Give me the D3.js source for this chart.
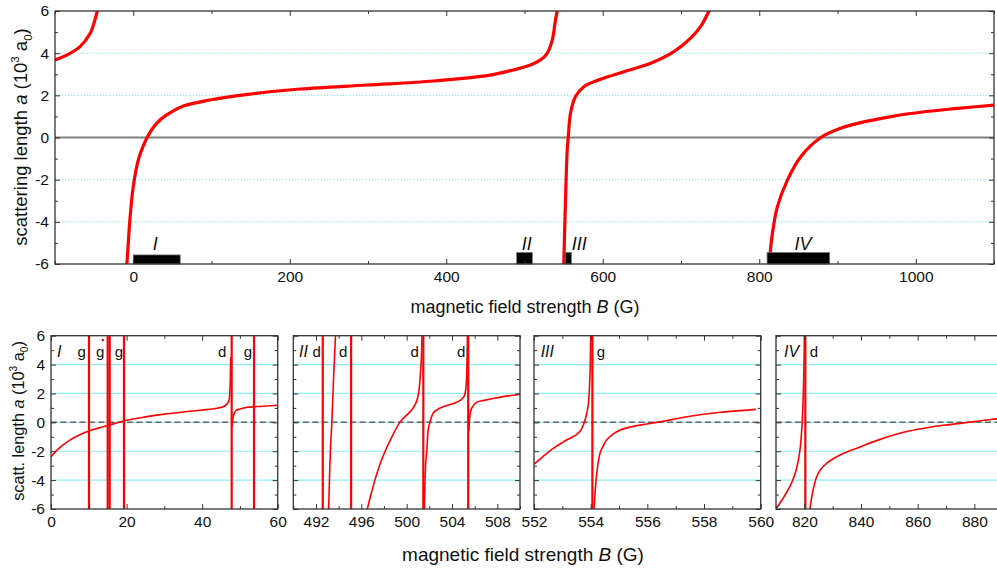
<!DOCTYPE html>
<html><head><meta charset="utf-8">
<script src="https://cdn.jsdelivr.net/npm/d3@7/dist/d3.min.js"></script>
<style>
body{margin:0;background:#fff}
svg{display:block}
text{font-family:"Liberation Sans",Arial,Helvetica,sans-serif;fill:#111}
</style>
</head><body>
<svg id="c" width="997" height="570"></svg>
<script>
// ---------------- DATA ----------------
// Overview (top) panel: branches of a(B) in units of 10^3 a0, B in G
const topBranch1 = [[-100,3.68],[-85,3.91],[-68,4.31],[-55,4.94],[-49,5.57],[-46,6]];
const topBranch2 = [[-8.1,-6],[-6,-4.8],[-4.3,-3.9],[0,-2.33],[6.4,-1.07],[12.8,-0.4],[18.4,0.05],[29.9,0.67],[42.7,1.07],[64,1.49],[98,1.78],[149,2.06],[213,2.30],[299,2.49],[384,2.68],[456,2.96],[482,3.17],[507.6,3.44],[520.4,3.68],[529,3.99],[535.4,4.62],[539.6,5.57],[541.8,6]];
const topBranch3 = [[550.2,-6],[552.4,-2.96],[554.6,-0.59],[555.9,0],[558.8,1.15],[565.2,1.94],[575.8,2.41],[597.2,2.76],[627,3.12],[661.2,3.52],[691,4.07],[712.3,4.71],[725,5.26],[735.8,6]];
const topBranch4 = [[812.5,-6],[816.8,-4.55],[823.2,-3.28],[836,-2.02],[853,-0.91],[878.7,0],[904,0.44],[925.7,0.67],[968.3,0.99],[1010.9,1.22],[1053.6,1.38],[1100,1.54]];
const regionNames = ["I","II","III","IV"];
const regionFrom  = [0, 490, 552, 810];
const regionTo    = [60, 510, 560, 890];
const regionTop   = [-5.57, -5.45, -5.45, -5.45];
const regionLabelB = [28, 503, 570, 856];

// Zoomed panels
const panelNames   = ["I","II","III","IV"];
const panelDomains = [[0,60],[490,510],[552,560],[810,890]];
const panelMajor   = [[0,20,40,60],[492,496,500,504,508],[552,554,556,558,560],[820,840,860,880]];
const panelMinor   = [[10,30,50],[490,494,498,502,506,510],[553,555,557,559],[810,830,850,870,890]];
const panelNameB   = [2.2, 490.9, 552.47, 815.5];

const panelIBranches = [
  [[0,-2.38],[2,-1.82],[5,-1.23],[7.5,-0.88],[10,-0.6],[12.5,-0.4],[15,-0.22],[17.5,-0.03],[20,0.15],[25,0.38],[30,0.57],[35,0.72],[40,0.85],[44,0.98],[46,1.13],[47,1.43],[47.35,2.2],[47.5,3.6],[47.55,4.5]],
  [[47.9,-0.3],[48.1,0.2],[48.4,0.55],[49,0.82],[50,0.92],[52,1.04],[54,1.08],[56,1.12],[60,1.18]]
];
const panelIIBranches = [
  [[493.12,-6],[493.27,-2],[493.4,0],[493.55,3],[493.72,6]],
  [[496.53,-6],[496.85,-5],[497.2,-4],[497.6,-3],[498.1,-2],[498.7,-1],[499.4,0],[500.0,0.5],[500.5,0.9],[500.85,1.4],[501.05,2.0],[501.2,3.2],[501.3,4.5],[501.35,6]],
  [[501.57,-6],[501.62,-4],[501.7,-2.6],[501.78,-2],[501.9,-0.5],[502.05,0],[502.35,0.65],[502.7,0.88],[503.1,1.04],[503.7,1.2],[504.27,1.34],[504.8,1.55],[505.1,1.85],[505.25,2.6],[505.32,4],[505.36,6]],
  [[505.5,-0.6],[505.56,0.3],[505.74,0.99],[506.2,1.4],[506.8,1.52],[507.5,1.63],[508.5,1.78],[510,1.95]]
];
const panelIIIBranches = [
  [[552,-2.89],[552.3,-2.4],[552.68,-1.8],[553,-1.4],[553.27,-1.1],[553.5,-0.85],[553.65,-0.55],[553.75,-0.15],[553.82,0.3],[553.88,0.8],[553.92,1.3],[553.96,2.5],[553.98,3.6],[554.0,6]],
  [[554.12,-6],[554.19,-4],[554.25,-3],[554.33,-2.14],[554.45,-1.6],[554.56,-1.23],[554.8,-0.8],[555.04,-0.53],[555.5,-0.28],[555.98,-0.12],[556.7,0.13],[557.39,0.39],[558.5,0.68],[559.83,0.9]]
];
const panelIVBranches = [
  [[810,-6],[813,-5.1],[815,-4.4],[816.5,-3.7],[817.6,-2.9],[818.4,-2.0],[818.9,-1.0],[819.25,0],[819.5,1.2],[819.7,2.5],[819.88,4],[820,6]],
  [[822,-6],[822.5,-5.3],[823.2,-4.6],[824.2,-3.85],[825.6,-3.3],[827.5,-2.9],[830.3,-2.5],[835,-2.05],[839.7,-1.7],[845,-1.3],[851.5,-0.88],[857,-0.6],[863.3,-0.37],[869,-0.2],[875,-0.07],[880,0.05],[885.9,0.2],[890,0.27]]
];
const panelBranches = [panelIBranches, panelIIBranches, panelIIIBranches, panelIVBranches];
// narrow resonances (drawn as vertical lines)
const panelNarrow = [[10.06,15.0,15.53,19.32,47.82,53.73],[492.6,495.1,501.47,505.43],[554.06],[820.35]];
// resonance labels (partial wave) and their B positions
const panelResLabels = [["g","g","g","d","g"],["d","d","d","d"],["g"],["d"]];
const panelResLabelB = [[8.1,13.0,18.0,45.3,52.1],[492.06,494.4,500.7,504.8],[554.36],[823.4]];
const panelIDots = [[13.7,5.7]];

const yMajor = [-6,-4,-2,0,2,4,6];
const yMinor = [-5,-3,-1,1,3,5];
const topXMajor = [0,200,400,600,800,1000];
const topXMinor = [-100,100,300,500,700,900,1100];
const gridVals = [-4,-2,2,4];

// ---------------- DRAW ----------------
const svg = d3.select("#c");
const FRAME = "#333";
const RED = "#ff0000";
const fmt = d => String(d);

function addTicks(g, x, y, xMaj, xMin, showX, showY, fs) {
  const [yb, yt] = y.range();
  const [xl, xr] = x.range();
  const style = s => { s.select(".domain").remove(); s.selectAll("line").attr("stroke", FRAME).attr("stroke-width",1); s.selectAll("text").attr("font-size", fs).attr("fill","#111"); };
  g.append("g").attr("transform",`translate(0,${yb})`).call(d3.axisBottom(x).tickValues(xMaj).tickSizeInner(-5).tickSizeOuter(0).tickPadding(7).tickFormat(showX?fmt:"")).call(style);
  g.append("g").attr("transform",`translate(0,${yb})`).call(d3.axisBottom(x).tickValues(xMin).tickSizeInner(-3).tickSizeOuter(0).tickFormat("")).call(style);
  g.append("g").attr("transform",`translate(0,${yt})`).call(d3.axisTop(x).tickValues(xMaj).tickSizeInner(-5).tickSizeOuter(0).tickFormat("")).call(style);
  g.append("g").attr("transform",`translate(0,${yt})`).call(d3.axisTop(x).tickValues(xMin).tickSizeInner(-3).tickSizeOuter(0).tickFormat("")).call(style);
  g.append("g").attr("transform",`translate(${xl},0)`).call(d3.axisLeft(y).tickValues(yMajor).tickSizeInner(-5).tickSizeOuter(0).tickPadding(6).tickFormat(showY?fmt:"")).call(style);
  g.append("g").attr("transform",`translate(${xl},0)`).call(d3.axisLeft(y).tickValues(yMinor).tickSizeInner(-3).tickSizeOuter(0).tickFormat("")).call(style);
  g.append("g").attr("transform",`translate(${xr},0)`).call(d3.axisRight(y).tickValues(yMajor).tickSizeInner(-5).tickSizeOuter(0).tickFormat("")).call(style);
  g.append("g").attr("transform",`translate(${xr},0)`).call(d3.axisRight(y).tickValues(yMinor).tickSizeInner(-3).tickSizeOuter(0).tickFormat("")).call(style);
  g.append("rect").attr("x",xl).attr("y",yt).attr("width",xr-xl).attr("height",yb-yt)
    .attr("fill","none").attr("stroke",FRAME).attr("stroke-width",1.3);
}

function richText(sel, parts, fs) {
  let shift = 0;
  parts.forEach(p => {
    const t = sel.append("tspan").text(p.t);
    let target = 0, size = fs;
    if (p.sup) { target = -0.42*fs; size = fs*0.62; }
    if (p.sub) { target = 0.25*fs; size = fs*0.62; }
    t.attr("font-size", size).attr("dy", target - shift);
    shift = target;
    if (p.i) t.attr("font-style","italic");
  });
}

const smooth = d3.curveCatmullRom.alpha(0.5);

// ---- top panel ----
const tx = d3.scaleLinear().domain([-100,1100]).range([55,994]);
const ty = d3.scaleLinear().domain([-6,6]).range([264,11]);
const gTop = svg.append("g");
svg.append("clipPath").attr("id","clipTop").append("rect")
  .attr("x",55).attr("y",11).attr("width",939).attr("height",253);

gTop.selectAll("line.grid").data(gridVals).join("line")
  .attr("x1",tx(-100)).attr("x2",tx(1100)).attr("y1",d=>ty(d)).attr("y2",d=>ty(d))
  .attr("stroke","#6fe3ee").attr("stroke-width",1).attr("stroke-dasharray","1.2,2");
gTop.append("line").attr("x1",tx(-100)).attr("x2",tx(1100)).attr("y1",ty(0)).attr("y2",ty(0))
  .attr("stroke","#808080").attr("stroke-width",2.2);

const topLine = d3.line().x(d=>tx(d[0])).y(d=>ty(d[1])).curve(smooth);
gTop.append("g").attr("clip-path","url(#clipTop)").selectAll("path")
  .data([topBranch1,topBranch2,topBranch3,topBranch4]).join("path")
  .attr("d",topLine).attr("fill","none").attr("stroke",RED).attr("stroke-width",3.2).attr("stroke-linecap","round");

gTop.selectAll("rect.region").data(regionNames).join("rect")
  .attr("x",(d,i)=>tx(regionFrom[i])).attr("width",(d,i)=>tx(regionTo[i])-tx(regionFrom[i]))
  .attr("y",(d,i)=>ty(regionTop[i])).attr("height",(d,i)=>ty(-6)-ty(regionTop[i]))
  .attr("fill","#000").attr("stroke","#777").attr("stroke-width",0.8);
gTop.selectAll("text.region").data(regionNames).join("text")
  .attr("x",(d,i)=>tx(regionLabelB[i])).attr("y",250).attr("text-anchor","middle")
  .attr("font-size",18).attr("font-style","italic").text(d=>d);

addTicks(gTop, tx, ty, topXMajor, topXMinor, true, true, 15.5);

svg.append("text").attr("transform","translate(27,137) rotate(-90)").attr("text-anchor","middle")
  .call(s=>richText(s,[{t:"scattering length "},{t:"a",i:true},{t:" (10"},{t:"3",sup:true},{t:" a"},{t:"0",sub:true},{t:")"}],18.5));
svg.append("text").attr("x",525).attr("y",313).attr("text-anchor","middle")
  .call(s=>richText(s,[{t:"magnetic field strength "},{t:"B",i:true},{t:" (G)"}],18));

// ---- lower panels ----
const panelLeft = [51, 293.3, 534, 776];
const panelW = 226.7;
const py = d3.scaleLinear().domain([-6,6]).range([509,335.7]);

panelNames.forEach((name,k) => {
  const x = d3.scaleLinear().domain(panelDomains[k]).range([panelLeft[k], panelLeft[k]+panelW]);
  const g = svg.append("g");
  const cid = "clipP"+k;
  svg.append("clipPath").attr("id",cid).append("rect")
    .attr("x",panelLeft[k]).attr("y",335.7).attr("width",panelW).attr("height",509-335.7);
  g.selectAll("line.grid").data(gridVals.concat([0])).join("line")
    .attr("x1",x.range()[0]).attr("x2",x.range()[1]).attr("y1",d=>py(d)).attr("y2",d=>py(d))
    .attr("stroke","#8ef0f4").attr("stroke-width",1.2);
  g.append("line").attr("x1",x.range()[0]).attr("x2",x.range()[1]).attr("y1",py(0)).attr("y2",py(0))
    .attr("stroke","#666").attr("stroke-width",1.5).attr("stroke-dasharray","6,3.5");
  const cg = g.append("g").attr("clip-path",`url(#${cid})`);
  const ln = d3.line().x(d=>x(d[0])).y(d=>py(d[1])).curve(smooth);
  cg.selectAll("path").data(panelBranches[k]).join("path")
    .attr("d",ln).attr("fill","none").attr("stroke",RED).attr("stroke-width",1.6);
  cg.selectAll("line.narrow").data(panelNarrow[k]).join("line")
    .attr("x1",d=>x(d)).attr("x2",d=>x(d)).attr("y1",py(-6)).attr("y2",py(6))
    .attr("stroke",RED).attr("stroke-width",2.2);
  if (k===0) cg.selectAll("rect.dot").data(panelIDots).join("rect")
    .attr("x",d=>x(d[0])-1).attr("y",d=>py(d[1])-1).attr("width",2.2).attr("height",2.2).attr("fill",RED);
  g.selectAll("text.res").data(panelResLabels[k]).join("text")
    .attr("x",(d,i)=>x(panelResLabelB[k][i])).attr("y",357).attr("text-anchor","middle")
    .attr("font-size",15).text(d=>d);
  g.append("text").attr("x",x(panelNameB[k])).attr("y",357).attr("text-anchor","middle")
    .attr("font-size",16).attr("font-style","italic").text(name);
  addTicks(g, x, py, panelMajor[k], panelMinor[k], true, k===0, 15.5);
});

svg.append("text").attr("transform","translate(24,421) rotate(-90)").attr("text-anchor","middle")
  .call(s=>richText(s,[{t:"scatt. length "},{t:"a",i:true},{t:" (10"},{t:"3",sup:true},{t:" a"},{t:"0",sub:true},{t:")"}],16.3));
svg.append("text").attr("x",523).attr("y",561).attr("text-anchor","middle")
  .call(s=>richText(s,[{t:"magnetic field strength "},{t:"B",i:true},{t:" (G)"}],19));
</script>
</body></html>
